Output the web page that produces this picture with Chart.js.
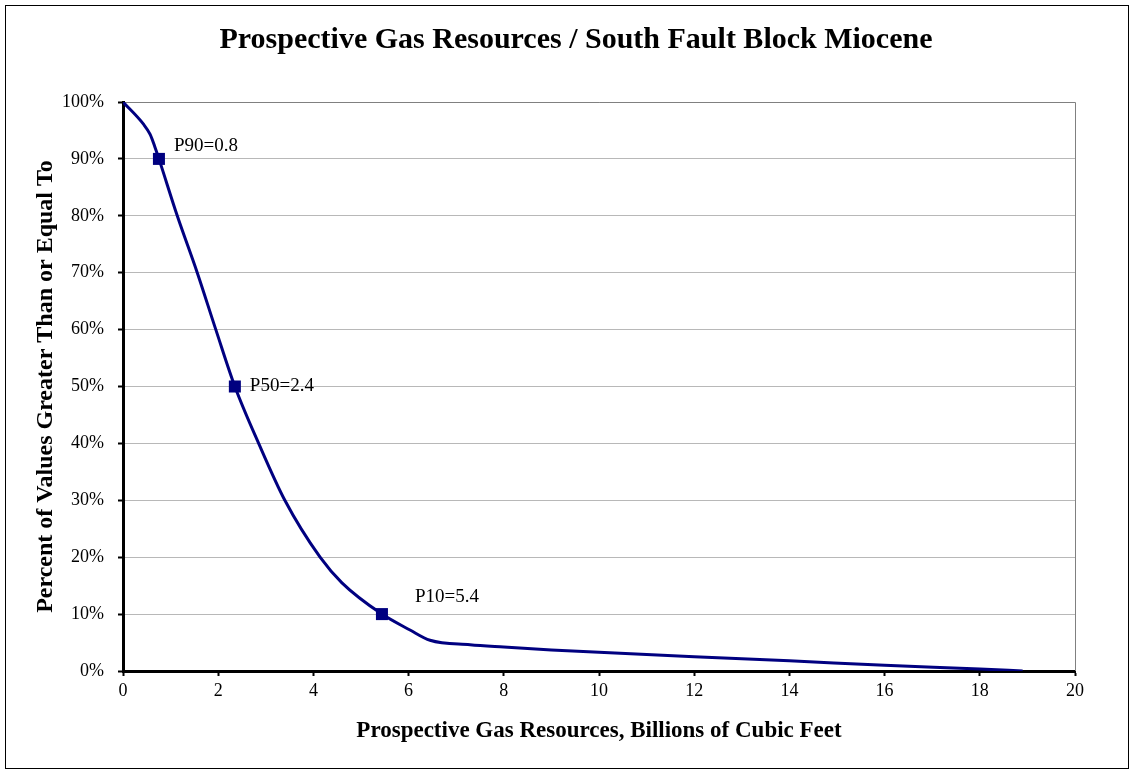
<!DOCTYPE html>
<html>
<head>
<meta charset="utf-8">
<script src="https://cdn.jsdelivr.net/npm/chart.js@4"></script>
<style>
  body { margin: 0; background: #fff; }
  #wrap { width: 1135px; height: 774px; }
</style>
</head>
<body>
<div id="wrap"><canvas id="chart"></canvas></div>
<script>
const chartTitle = 'Prospective Gas Resources / South Fault Block Miocene';

const curveX = [0, 0.43, 0.57, 0.67, 0.755, 1.14, 1.56, 1.95, 2.35, 2.85, 3.4, 4.14, 4.6, 5.44, 6.03, 6.45, 7.29, 8, 9, 10, 12, 14, 16, 18, 18.9];
const curveY = [100, 96.1, 94.3, 92.1, 90, 80, 70, 60, 50, 40, 30, 20, 15.5, 10, 7.2, 5.4, 4.6, 4.2, 3.7, 3.3, 2.5, 1.8, 1.0, 0.35, 0];

const markerX = [0.755, 2.35, 5.44];
const markerY = [90, 50, 10];
const markerLabels = ['P90=0.8', 'P50=2.4', 'P10=5.4'];
const labelOffsets = [[15, -13], [15, 0], [33, -17]];

const SERIF = "'Liberation Serif', 'Times New Roman', serif";
const NAVY = '#000080';

const frame = {
  id: 'frame',
  beforeDraw(chart) {
    const ctx = chart.ctx;
    ctx.save();
    ctx.fillStyle = '#fff';
    ctx.fillRect(0, 0, chart.width, chart.height);
    ctx.strokeStyle = '#000';
    ctx.lineWidth = 1;
    ctx.strokeRect(5.5, 5.5, 1123, 763);
    // title is drawn here (not the title plugin) so it can sit off-centre like the original
    ctx.fillStyle = '#000';
    ctx.font = 'bold 30px ' + SERIF;
    ctx.textAlign = 'center';
    ctx.textBaseline = 'middle';
    ctx.fillText(chartTitle, 576, 40);
    ctx.restore();
  },
  beforeDatasetsDraw(chart) {
    const { ctx, chartArea: a } = chart;
    ctx.save();
    ctx.strokeStyle = '#808080';
    ctx.lineWidth = 1;
    ctx.beginPath();
    ctx.moveTo(a.left, a.top + 0.5);
    ctx.lineTo(a.right + 0.5, a.top + 0.5);
    ctx.lineTo(a.right + 0.5, a.bottom);
    ctx.stroke();
    ctx.restore();
  },
  afterDatasetsDraw(chart) {
    const { ctx, scales } = chart;
    ctx.save();
    ctx.fillStyle = '#000';
    ctx.font = '19px ' + SERIF;
    ctx.textBaseline = 'middle';
    ctx.textAlign = 'left';
    markerLabels.forEach((t, i) => {
      const px = scales.x.getPixelForValue(markerX[i]) + labelOffsets[i][0];
      const py = scales.y.getPixelForValue(markerY[i]) + labelOffsets[i][1];
      ctx.fillText(t, px, py);
    });
    ctx.restore();
  }
};

new Chart(document.getElementById('chart'), {
  type: 'scatter',
  data: {
    datasets: [
      {
        data: curveX.map((x, i) => ({ x, y: curveY[i] })),
        showLine: true,
        borderColor: NAVY,
        borderWidth: 3,
        pointRadius: 0,
        cubicInterpolationMode: 'monotone',
      },
      {
        data: markerX.map((x, i) => ({ x, y: markerY[i] })),
        showLine: false,
        pointStyle: 'rect',
        pointRadius: 8.5,
        backgroundColor: NAVY,
        borderColor: NAVY,
        borderWidth: 0,
      },
    ],
  },
  options: {
    responsive: true,
    maintainAspectRatio: false,
    animation: false,
    layout: { padding: { left: 0, right: 60, top: 102, bottom: 0 } },
    plugins: {
      legend: { display: false },
      tooltip: { enabled: false },
      title: { display: false },
    },
    scales: {
      x: {
        type: 'linear',
        min: 0,
        max: 20,
        afterFit(scale) { scale.height = 103; },
        ticks: { stepSize: 2, color: '#000', font: { family: SERIF, size: 18 }, padding: 4, maxRotation: 0 },
        grid: { drawOnChartArea: false, drawTicks: true, tickLength: 5, tickWidth: 2, tickColor: '#000' },
        border: { display: true, color: '#000', width: 3 },
        title: {
          display: true,
          text: 'Prospective Gas Resources, Billions of Cubic Feet',
          color: '#000',
          font: { family: SERIF, size: 23, weight: 'bold' },
          padding: { top: 0, bottom: 29 },
        },
      },
      y: {
        type: 'linear',
        min: 0,
        max: 100,
        afterFit(scale) { scale.width = 123; },
        ticks: { stepSize: 10, color: '#000', font: { family: SERIF, size: 18 }, padding: 14, callback: v => v + '%' },
        grid: { color: '#b8b8b8', lineWidth: 1, drawTicks: true, tickLength: 5, tickWidth: 2, tickColor: '#000' },
        border: { display: true, color: '#000', width: 3 },
        title: {
          display: true,
          text: 'Percent of Values Greater Than or Equal To',
          color: '#000',
          font: { family: SERIF, size: 24, weight: 'bold' },
          padding: { top: 31, bottom: 0 },
        },
      },
    },
  },
  plugins: [frame],
});
</script>
</body>
</html>
